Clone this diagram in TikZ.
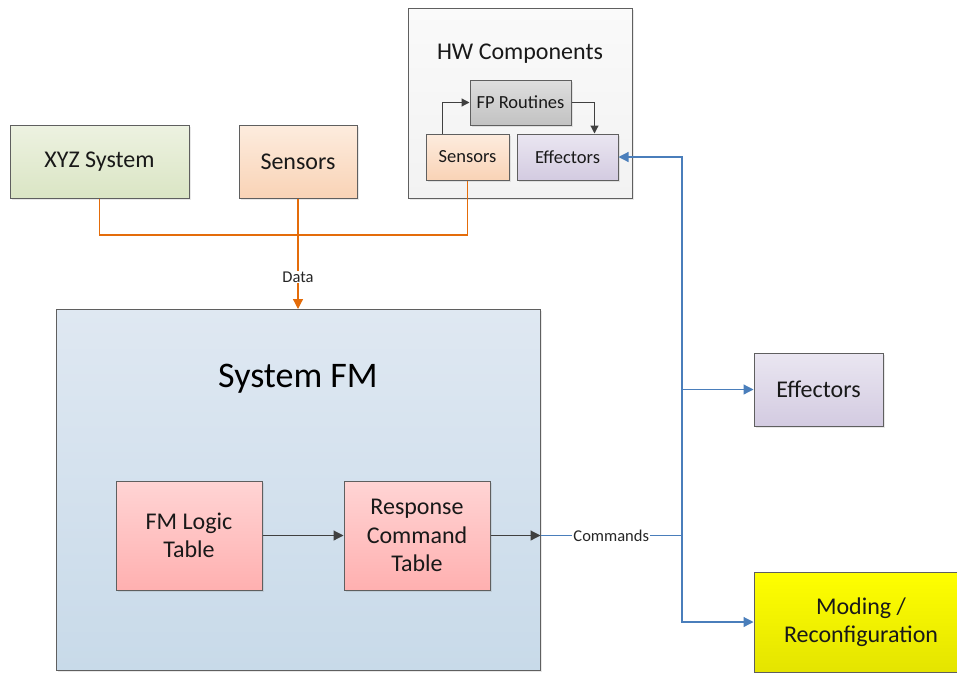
\documentclass[tikz,border=0pt]{standalone}
\usepackage{fontspec}
\setmainfont{Carlito}
\usetikzlibrary{arrows.meta, shadows}

\definecolor{orangeline}{HTML}{E46C0A}
\definecolor{blueline}{HTML}{4A7EBB}
\definecolor{arrowgray}{HTML}{404040}
\definecolor{boxgray}{HTML}{5F5F5F}

\begin{document}
\begin{tikzpicture}[x=1pt, y=-1pt,
    box/.style={draw=boxgray, line width=1pt, align=center, inner sep=0pt,
        text=black!90, font=\fontsize{24}{28.5}\selectfont,
        drop shadow={opacity=0.18, shadow xshift=1.5pt, shadow yshift=-1.5pt}},
    smallbox/.style={box, font=\fontsize{18.5}{22}\selectfont},
    oliveshade/.style={top color={rgb,255:red,237;green,242;blue,225}, bottom color={rgb,255:red,218;green,229;blue,196}},
    peachshade/.style={top color={rgb,255:red,253;green,236;blue,222}, bottom color={rgb,255:red,249;green,211;blue,182}},
    lilacshade/.style={top color={rgb,255:red,234;green,230;blue,241}, bottom color={rgb,255:red,211;green,203;blue,225}},
    greyshade/.style={top color={rgb,255:red,222;green,222;blue,222}, bottom color={rgb,255:red,194;green,194;blue,194}},
    papershade/.style={top color={rgb,255:red,250;green,250;blue,250}, bottom color={rgb,255:red,242;green,242;blue,242}},
    skyshade/.style={top color={rgb,255:red,223;green,232;blue,242}, bottom color={rgb,255:red,200;green,218;blue,233}},
    roseshade/.style={top color={rgb,255:red,255;green,212;blue,212}, bottom color={rgb,255:red,255;green,176;blue,176}},
    lemonshade/.style={top color={rgb,255:red,255;green,255;blue,0}, bottom color={rgb,255:red,228;green,228;blue,0}},
    dataline/.style={draw=orangeline, line width=1.2pt},
    cmdline/.style={draw=blueline, line width=1.2pt},
    flow/.style={draw=arrowgray, line width=1.2pt},
    tip/.style={-{Triangle[length=10pt, width=10pt]}},
    smalltip/.style={-{Triangle[length=8pt, width=8pt]}},
    lbl/.style={fill=white, inner sep=1pt, text=black!85, font=\fontsize{16.5}{18}\selectfont}]

    \useasboundingbox (0,0) rectangle (957,672);

    % Sources
    \node[box, oliveshade, minimum width=179pt, minimum height=73pt] (xyz) at (99.5,161.5) {XYZ System};
    \node[box, peachshade, minimum width=118pt, minimum height=73pt] (sens) at (298,161.5) {Sensors};

    % HW components
    \node[box, papershade, minimum width=224pt, minimum height=190pt] (hw) at (520,103) {};
    \node[text=black!90, font=\fontsize{24}{28.5}\selectfont] (hwtitle) at (520,54) {HW Components};
    \node[smallbox, greyshade, minimum width=101pt, minimum height=45pt] (fp) at (520.5,102.5) {FP Routines};
    \node[smallbox, peachshade, minimum width=83pt, minimum height=46pt] (hwS) at (467.5,157) {Sensors};
    \node[smallbox, lilacshade, minimum width=101pt, minimum height=46pt] (hwE) at (567.5,157) {Effectors};

    \draw[flow, smalltip] ([xshift=-25pt]hwS.north) |- (fp.west);
    \draw[flow, smalltip] (fp.east) -| ([xshift=27pt]hwE.north);

    % System FM
    \node[box, skyshade, minimum width=484pt, minimum height=361pt] (fm) at (298,490) {};
    \node[text=black, font=\fontsize{36}{40}\selectfont] (fmtitle) at (298,379) {System FM};
    \node[box, roseshade, minimum width=146pt, minimum height=109pt] (logic) at (189,535.5) {FM Logic\\Table};
    \node[box, roseshade, minimum width=146pt, minimum height=109pt] (resp) at (417,535.5) {Response\\Command\\Table};

    \draw[flow, tip] (logic.east) -- (resp.west);
    \draw[flow, tip] (resp.east) -- (resp.east -| fm.east);

    % Outputs
    \node[box, lilacshade, minimum width=129pt, minimum height=73pt] (eff) at (818.5,389.5) {Effectors};
    \node[box, lemonshade, minimum width=214pt, minimum height=100pt] (mode) at (861,622) {Moding /\\Reconfiguration};

    % Data bus
    \coordinate (bus) at (298,235);
    \draw[dataline] (xyz.south) |- (bus) -| (hwS.south);
    \draw[dataline, tip] (sens.south) -- node[lbl, pos=0.71] {Data} (fm.north);

    % Commands
    \coordinate (cmd) at (682,535.5);
    \draw[cmdline] (resp.east -| fm.east) -- node[lbl] {Commands} (cmd);
    \draw[cmdline, tip] (cmd) |- (hwE.east);
    \draw[cmdline, tip] (cmd) |- (eff.west);
    \draw[cmdline, tip] (cmd) |- (mode.west);

\end{tikzpicture}
\end{document}
